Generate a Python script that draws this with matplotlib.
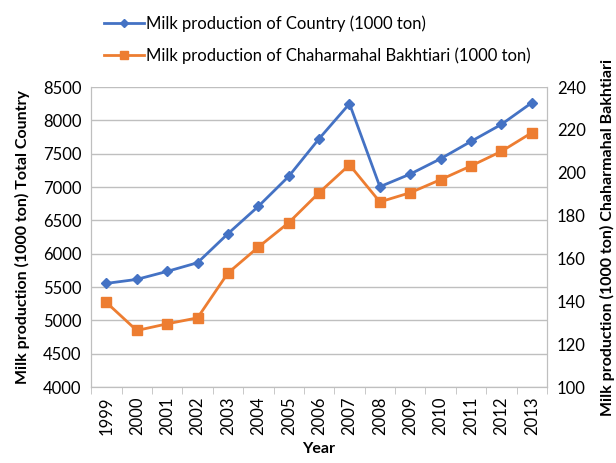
import matplotlib
matplotlib.use('Agg')
import matplotlib.pyplot as plt
import numpy as np

plt.rcParams['font.family'] = ['Lato', 'DejaVu Sans']

years = ['1999', '2000', '2001', '2002', '2003', '2004', '2005', '2006',
         '2007', '2008', '2009', '2010', '2011', '2012', '2013']
country = [5555, 5615, 5735, 5865, 6300, 6710, 7160, 7725, 8250,
           7005, 7195, 7425, 7685, 7940, 8265]
chahar = [139.5, 126.4, 129.5, 132.3, 153.2, 165.3, 176.7, 190.7, 203.7,
          186.4, 190.7, 196.8, 203.2, 210.0, 218.7]

blue = '#4472C4'
orange = '#ED7D31'
grid_c = '#BFBFBF'

fig = plt.figure(figsize=(6.16, 4.63), dpi=100)
ax = fig.add_axes([0.148, 0.164, 0.740, 0.648])
ax2 = ax.twinx()

x = np.arange(len(years))
l1, = ax.plot(x, country, color=blue, lw=2, marker='D', ms=5, label='Milk production of Country (1000 ton)')
l2, = ax2.plot(x, chahar, color=orange, lw=2, marker='s', ms=6.5, label='Milk production of Chaharmahal Bakhtiari (1000 ton)')

ax.set_ylim(4000, 8500)
ax.set_yticks(np.arange(4000, 8501, 500))
ax2.set_ylim(100, 240)
ax2.set_yticks(np.arange(100, 241, 20))
ax.set_xlim(-0.5, len(years) - 0.5)
ax.set_xticks(x)
ax.set_xticklabels(years, rotation=90)
ax.set_xticks(np.arange(-0.5, len(years), 1), minor=True)
ax.tick_params(axis='x', which='major', length=0, labelsize=12, pad=7)
ax.tick_params(axis='x', which='minor', length=5, color=grid_c)
ax.tick_params(axis='y', length=0, labelsize=12, pad=7)
ax2.tick_params(axis='y', length=0, labelsize=12, pad=7)

ax.yaxis.grid(True, color=grid_c, lw=1)
ax.set_axisbelow(True)
for a in (ax, ax2):
    a.spines['top'].set_visible(False)
    for s in ('left', 'right', 'bottom'):
        a.spines[s].set_color(grid_c)

ax.set_xlabel('Year', fontsize=11.5, fontweight='bold', labelpad=5)
ax.set_ylabel('Milk production (1000 ton) Total Country', fontsize=11.5, fontweight='bold', labelpad=9)
ax2.set_ylabel('Milk production (1000 ton) Chaharmahal Bakhtiari', fontsize=11.5, fontweight='bold', labelpad=10)

fig.legend(handles=[l1, l2], loc='upper left', bbox_to_anchor=(0.145, 1.0),
           frameon=False, fontsize=12, handlelength=2.4, handletextpad=0.1,
           labelspacing=0.95, markerscale=0.8)

fig.savefig('out.png', dpi=100)
